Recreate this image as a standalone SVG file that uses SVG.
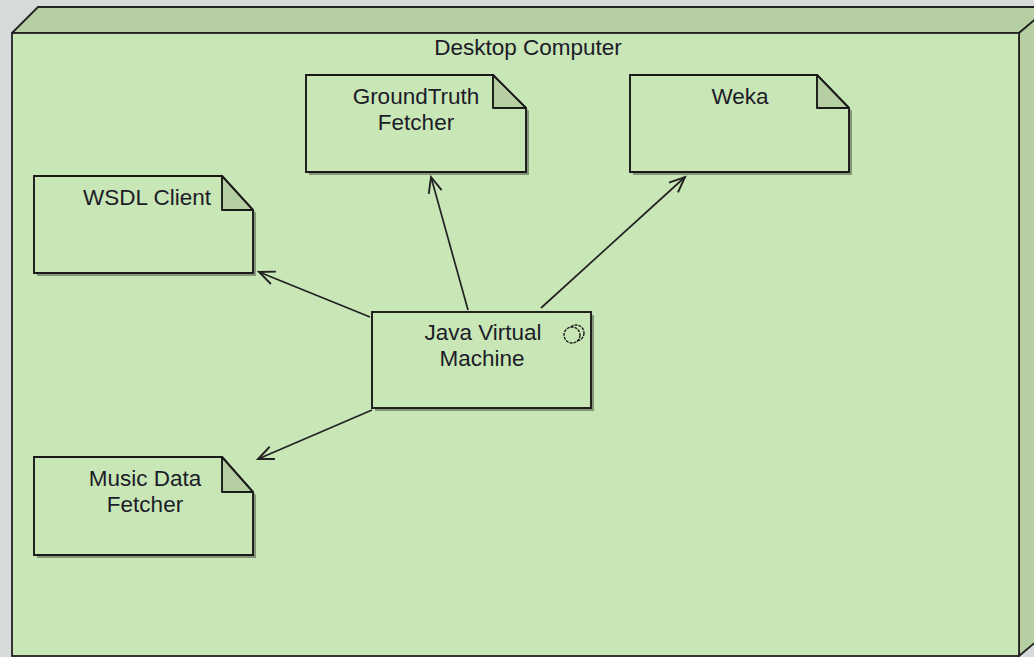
<svg xmlns="http://www.w3.org/2000/svg" width="1034" height="657" viewBox="0 0 1034 657">
  <defs>
    <style>
      .face { fill: #c9e6b7; stroke: #222; stroke-width: 1.8; }
      .side { fill: #b5cfa3; stroke: #222; stroke-width: 1.8; stroke-linejoin: round; }
      .note { fill: #c9e6b7; stroke: #1a1a1a; stroke-width: 1.9; }
      .fold { fill: #b5cfa3; stroke: #1a1a1a; stroke-width: 1.9; stroke-linejoin: round; }
      .shadow { fill: #000; fill-opacity: 0.35; }
      .lbl { font-family: "Liberation Sans", Arial, sans-serif; font-size: 22.5px; fill: #1c1c28; text-anchor: middle; }
      .conn { fill: none; stroke: #222; stroke-width: 1.7; }
    </style>
    <marker id="arr" markerUnits="userSpaceOnUse" markerWidth="20" markerHeight="20" viewBox="-16 -8 18 16" refX="0" refY="0" orient="auto">
      <path d="M -14 -6 L 0 0 L -14 6" fill="none" stroke="#222" stroke-width="1.7"/>
    </marker>
  </defs>
  <rect x="0" y="0" width="1034" height="657" fill="#d6dadb"/>

  <g id="desktop-computer">
    <polygon class="side" points="12,33 38,7 1050,7 1019,33"/>
    <polygon class="side" points="1019,33 1050,7 1050,630 1019,656"/>
    <rect class="face" x="12" y="33" width="1007" height="623"/>
    <text class="lbl" x="528" y="55">Desktop Computer</text>
  </g>

  <g id="groundtruth-fetcher">
    <path class="shadow" d="M309 78 H496 L529 111 V175 H309 Z"/>
    <path class="note" d="M306 75 H493 L526 108 V172 H306 Z"/>
    <path class="fold" d="M493 75 V108 H526 Z"/>
    <text class="lbl" x="416" y="104">GroundTruth</text>
    <text class="lbl" x="416" y="130">Fetcher</text>
  </g>

  <g id="weka">
    <path class="shadow" d="M633 78 H820 L852 111 V175 H633 Z"/>
    <path class="note" d="M630 75 H817 L849 108 V172 H630 Z"/>
    <path class="fold" d="M817 75 V108 H849 Z"/>
    <text class="lbl" x="740" y="104">Weka</text>
  </g>

  <g id="wsdl-client">
    <path class="shadow" d="M37 179 H225 L256 213 V276 H37 Z"/>
    <path class="note" d="M34 176 H222 L253 210 V273 H34 Z"/>
    <path class="fold" d="M222 176 V210 H253 Z"/>
    <text class="lbl" x="147" y="205">WSDL Client</text>
  </g>

  <g id="music-data-fetcher">
    <path class="shadow" d="M37 460 H225 L256 495 V558 H37 Z"/>
    <path class="note" d="M34 457 H222 L253 492 V555 H34 Z"/>
    <path class="fold" d="M222 457 V492 H253 Z"/>
    <text class="lbl" x="145" y="486">Music Data</text>
    <text class="lbl" x="145" y="512">Fetcher</text>
  </g>

  <g id="java-virtual-machine">
    <rect class="shadow" x="375" y="315" width="219" height="96"/>
    <rect class="note" x="372" y="312" width="219" height="96"/>
    <circle cx="576" cy="333" r="8" fill="none" stroke="#111" stroke-width="1.3" stroke-dasharray="3 1"/>
    <circle cx="572" cy="335" r="8" fill="#c9e6b7" stroke="#111" stroke-width="1.3" stroke-dasharray="3 1"/>
    <text class="lbl" x="483" y="340">Java Virtual</text>
    <text class="lbl" x="482" y="366">Machine</text>
  </g>

  <g id="connectors">
    <line class="conn" x1="370" y1="317" x2="259" y2="272" marker-end="url(#arr)"/>
    <line class="conn" x1="372" y1="410" x2="258" y2="459" marker-end="url(#arr)"/>
    <line class="conn" x1="468" y1="310" x2="431" y2="177" marker-end="url(#arr)"/>
    <line class="conn" x1="541" y1="308" x2="685" y2="177" marker-end="url(#arr)"/>
  </g>
</svg>
